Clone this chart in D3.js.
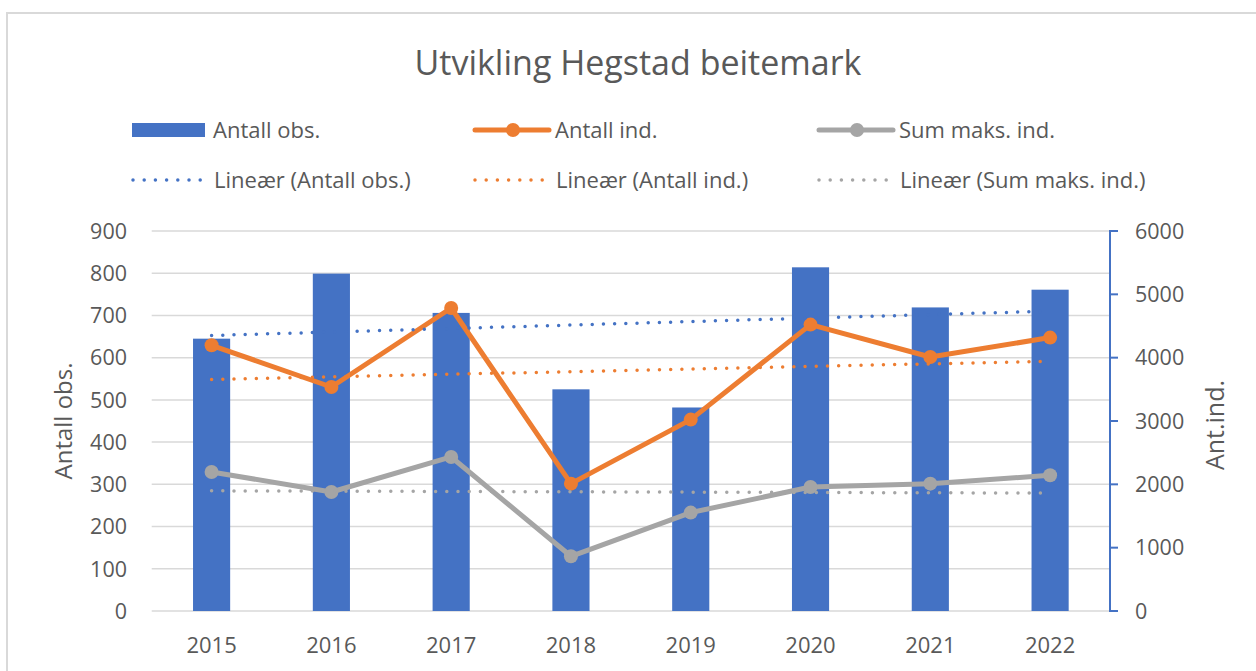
<!DOCTYPE html>
<html>
<head>
<meta charset="utf-8">
<script src="https://cdn.jsdelivr.net/npm/d3@7"></script>
<style>
  body { margin: 0; background: #fff; }
  svg { display: block; font-family: "Open Sans", sans-serif; }
</style>
</head>
<body>
<svg id="chart" width="1256" height="671"></svg>
<script>
var years = ['2015', '2016', '2017', '2018', '2019', '2020', '2021', '2022'];
var antallObs = [645, 799, 706, 525, 482, 814, 719, 761];
var antallInd = [4195, 3537, 4784, 2011, 3022, 4522, 4011, 4317];
var sumMaksInd = [2195, 1879, 2432, 864, 1554, 1958, 2011, 2143];
var leftTicks = [0, 100, 200, 300, 400, 500, 600, 700, 800, 900];
var rightTicks = [0, 1000, 2000, 3000, 4000, 5000, 6000];

var blue = '#4472C4', orange = '#ED7D31', grey = '#A5A5A5', txt = '#595959';

var svg = d3.select('#chart');

// frame
svg.append('rect')
  .attr('x', 7).attr('y', 13).attr('width', 1260).attr('height', 680)
  .attr('fill', 'none').attr('stroke', '#D9D9D9').attr('stroke-width', 2);

var x = d3.scaleBand().domain(years).range([151.7, 1110]).padding(0);
var yL = d3.scaleLinear().domain([0, 900]).range([611, 231]);
var yR = d3.scaleLinear().domain([0, 6000]).range([611, 231]);
var cx = function(d) { return x(d) + x.bandwidth() / 2; };
var barW = x.bandwidth() * 0.31;

// title
svg.append('text')
  .attr('x', 638).attr('y', 75)
  .attr('text-anchor', 'middle')
  .attr('fill', txt)
  .style('font-size', '34px')
  .text('Utvikling Hegstad beitemark');

// grid
svg.append('g').selectAll('line').data(leftTicks).join('line')
  .attr('x1', 151.7).attr('x2', 1110)
  .attr('y1', function(d) { return yL(d); })
  .attr('y2', function(d) { return yL(d); })
  .attr('stroke', '#D9D9D9').attr('stroke-width', 1.5);

// left tick labels
svg.append('g').selectAll('text').data(leftTicks).join('text')
  .attr('x', 127)
  .attr('y', function(d) { return yL(d); })
  .attr('dy', '0.36em')
  .attr('text-anchor', 'end')
  .attr('fill', txt)
  .style('font-size', '21.5px')
  .text(function(d) { return d; });

// right axis
var rAxis = svg.append('g');
rAxis.append('line')
  .attr('x1', 1110).attr('x2', 1110)
  .attr('y1', yR(6000)).attr('y2', yR(0))
  .attr('stroke', blue).attr('stroke-width', 2);
rAxis.selectAll('line.tick').data(rightTicks).join('line')
  .attr('class', 'tick')
  .attr('x1', 1109).attr('x2', 1118)
  .attr('y1', function(d) { return yR(d); })
  .attr('y2', function(d) { return yR(d); })
  .attr('stroke', blue).attr('stroke-width', 2);
rAxis.selectAll('text').data(rightTicks).join('text')
  .attr('x', 1135)
  .attr('y', function(d) { return yR(d); })
  .attr('dy', '0.36em')
  .attr('fill', txt)
  .style('font-size', '21.5px')
  .text(function(d) { return d; });

// x labels
svg.append('g').selectAll('text').data(years).join('text')
  .attr('x', cx)
  .attr('y', 653)
  .attr('text-anchor', 'middle')
  .attr('fill', txt)
  .style('font-size', '22px')
  .text(function(d) { return d; });

// axis titles
svg.append('text')
  .attr('transform', 'translate(72,421) rotate(-90)')
  .attr('text-anchor', 'middle')
  .attr('fill', txt)
  .style('font-size', '24px')
  .text('Antall obs.');
svg.append('text')
  .attr('transform', 'translate(1224,425) rotate(-90)')
  .attr('text-anchor', 'middle')
  .attr('fill', txt)
  .style('font-size', '25px')
  .text('Ant.ind.');

// bars
svg.append('g').selectAll('rect').data(antallObs).join('rect')
  .attr('x', function(d, i) { return cx(years[i]) - barW / 2; })
  .attr('y', function(d) { return yL(d); })
  .attr('width', barW)
  .attr('height', function(d) { return yL(0) - yL(d); })
  .attr('fill', blue);

function drawSeries(values, color) {
  var line = d3.line()
    .x(function(d, i) { return cx(years[i]); })
    .y(function(d) { return yR(d); });
  svg.append('path')
    .datum(values)
    .attr('d', line)
    .attr('fill', 'none')
    .attr('stroke', color)
    .attr('stroke-width', 5)
    .attr('stroke-linejoin', 'round');
  svg.append('g').selectAll('circle').data(values).join('circle')
    .attr('cx', function(d, i) { return cx(years[i]); })
    .attr('cy', function(d) { return yR(d); })
    .attr('r', 7)
    .attr('fill', color);
}
drawSeries(antallInd, orange);
drawSeries(sumMaksInd, grey);

// linear trend lines (least squares)
function trend(values) {
  var n = values.length;
  var mx = (n - 1) / 2, my = d3.mean(values);
  var sxy = 0, sxx = 0;
  values.forEach(function(v, i) { sxy += (i - mx) * (v - my); sxx += (i - mx) * (i - mx); });
  var b = sxy / sxx, a = my - b * mx;
  return [a, a + b * (n - 1)];
}
function drawTrend(values, scale, color) {
  var t = trend(values);
  svg.append('line')
    .attr('x1', cx(years[0])).attr('x2', cx(years[years.length - 1]))
    .attr('y1', scale(t[0])).attr('y2', scale(t[1]))
    .attr('stroke', color)
    .attr('stroke-width', 3.5)
    .attr('stroke-linecap', 'round')
    .attr('stroke-dasharray', '0 11.2');
}
drawTrend(antallObs, yL, blue);
drawTrend(antallInd, yR, orange);
drawTrend(sumMaksInd, yR, grey);

// legend
var legendItems = [
  { label: 'Antall obs.', type: 'bar', color: blue, x: 132, y: 130 },
  { label: 'Antall ind.', type: 'line', color: orange, x: 473, y: 130 },
  { label: 'Sum maks. ind.', type: 'line', color: grey, x: 817, y: 130 },
  { label: 'Lineær (Antall obs.)', type: 'dot', color: blue, x: 132, y: 180 },
  { label: 'Lineær (Antall ind.)', type: 'dot', color: orange, x: 474, y: 180 },
  { label: 'Lineær (Sum maks. ind.)', type: 'dot', color: grey, x: 818, y: 180 }
];
var lg = svg.append('g').selectAll('g').data(legendItems).join('g')
  .attr('transform', function(d) { return 'translate(' + d.x + ',' + d.y + ')'; });
lg.each(function(d) {
  var g = d3.select(this);
  if (d.type === 'bar') {
    g.append('rect').attr('x', 0).attr('y', -7).attr('width', 73).attr('height', 14).attr('fill', d.color);
  } else if (d.type === 'line') {
    g.append('line').attr('x1', 2).attr('x2', 76).attr('y1', 0).attr('y2', 0)
      .attr('stroke', d.color).attr('stroke-width', 5).attr('stroke-linecap', 'round');
    g.append('circle').attr('cx', 40).attr('cy', 0).attr('r', 7).attr('fill', d.color);
  } else {
    g.append('line').attr('x1', 1).attr('x2', 70).attr('y1', 0).attr('y2', 0)
      .attr('stroke', d.color).attr('stroke-width', 3.5)
      .attr('stroke-linecap', 'round').attr('stroke-dasharray', '0 11.2');
  }
  g.append('text')
    .attr('x', d.type === 'bar' ? 81 : 82)
    .attr('y', 0)
    .attr('dy', '0.36em')
    .attr('fill', txt)
    .style('font-size', '22px')
    .text(d.label);
});
</script>
</body>
</html>
